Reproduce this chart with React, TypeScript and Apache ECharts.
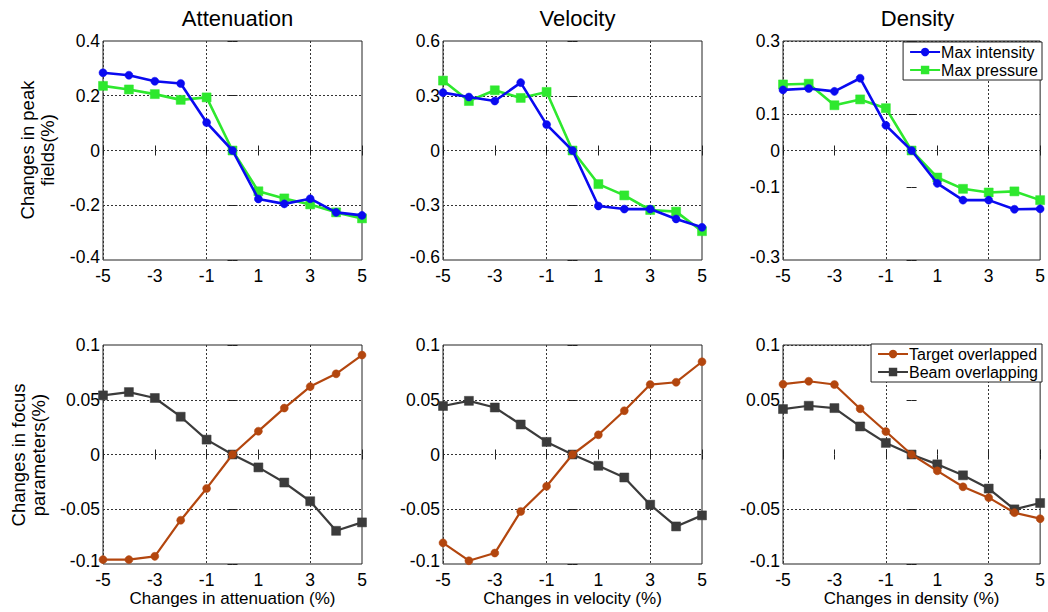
import React, { useEffect, useRef } from 'react';
import * as echarts from 'echarts';

const xValues = [-5, -4, -3, -2, -1, 0, 1, 2, 3, 4, 5];
const xTickLabels = [-5, -3, -1, 1, 3, 5];
const panelTitles = ['Attenuation', 'Velocity', 'Density'];
const xAxisNames = ['Changes in attenuation (%)', 'Changes in velocity (%)', 'Changes in density (%)'];
const topYName = 'Changes in peak\nfields(%)';
const bottomYName = 'Changes in focus\nparameters(%)';

// Peak fields (top row)
const attIntensity = [0.284, 0.275, 0.253, 0.245, 0.102, 0, -0.177, -0.195, -0.176, -0.226, -0.237];
const attPressure = [0.236, 0.223, 0.206, 0.185, 0.194, 0, -0.149, -0.175, -0.197, -0.226, -0.248];
const velIntensity = [0.317, 0.293, 0.271, 0.372, 0.142, 0, -0.304, -0.321, -0.321, -0.375, -0.421];
const velPressure = [0.383, 0.271, 0.33, 0.288, 0.321, 0, -0.184, -0.246, -0.326, -0.335, -0.442];
const denIntensity = [0.166, 0.17, 0.162, 0.198, 0.069, 0, -0.09, -0.136, -0.136, -0.161, -0.16];
const denPressure = [0.181, 0.183, 0.124, 0.14, 0.116, 0, -0.074, -0.105, -0.115, -0.112, -0.136];

// Focus parameters (bottom row)
const attTarget = [-0.096, -0.096, -0.093, -0.06, -0.031, 0, 0.0213, 0.0424, 0.062, 0.0737, 0.0908];
const attBeam = [0.054, 0.057, 0.0516, 0.0345, 0.0136, 0, -0.0118, -0.0256, -0.0427, -0.0697, -0.062];
const velTarget = [-0.0807, -0.097, -0.09, -0.052, -0.029, 0, 0.018, 0.04, 0.0639, 0.066, 0.0847];
const velBeam = [0.0443, 0.049, 0.0429, 0.0274, 0.0115, 0, -0.0103, -0.021, -0.0458, -0.0657, -0.0556];
const denTarget = [0.0642, 0.0669, 0.0639, 0.0418, 0.021, 0, -0.0149, -0.0295, -0.0394, -0.0531, -0.0586];
const denBeam = [0.0415, 0.0445, 0.0424, 0.0256, 0.0106, 0, -0.009, -0.019, -0.0311, -0.0501, -0.0443];

// Y axis ranges [min, max, step] and the tick labels shown
const yRanges = [
  [-0.4, 0.4, 0.2], [-0.6, 0.6, 0.3], [-0.3, 0.3, 0.1],
  [-0.1, 0.1, 0.05], [-0.1, 0.1, 0.05], [-0.1, 0.1, 0.05],
];
const yTickLabels = [
  [-0.4, -0.2, 0, 0.2, 0.4],
  [-0.6, -0.3, 0, 0.3, 0.6],
  [-0.3, -0.1, 0, 0.1, 0.3],
  [-0.1, -0.05, 0, 0.05, 0.1],
  [-0.1, -0.05, 0, 0.05, 0.1],
  [-0.1, -0.05, 0.05, 0.1],
];

const seriesNames = ['Max intensity', 'Max pressure', 'Target overlapped', 'Beam overlapping'];
const panelData = [
  [attIntensity, attPressure],
  [velIntensity, velPressure],
  [denIntensity, denPressure],
  [attTarget, attBeam],
  [velTarget, velBeam],
  [denTarget, denBeam],
];

const FONT = '"Liberation Sans", Arial, Helvetica, sans-serif';
const BLUE = '#0a0af0';
const GREEN = '#2ee82e';
const ORANGE = '#b3460e';
const GRAY = '#3b3b3b';
const GRIDC = '#333';
const CLEAR = 'rgba(0,0,0,0)';

const LEFTS = [103, 443, 783];
const TOPS = [41, 345];
const W = 259;
const H = 219;
const TICKFONT = 17.5;

const has = (list: number[], v: number) => list.some((t) => Math.abs(t - v) < 1e-6);

function buildOption() {
  const grid: any[] = [];
  const xAxis: any[] = [];
  const yAxis: any[] = [];
  const series: any[] = [];

  for (let p = 0; p < 6; p++) {
    const row = Math.floor(p / 3);
    const col = p % 3;
    grid.push({
      left: LEFTS[col], top: TOPS[row], width: W, height: H,
      show: true, borderColor: '#222', borderWidth: 1, backgroundColor: '#fff',
    });

    const xColors = xValues.map((v) => (has(xTickLabels, v) ? GRIDC : CLEAR));
    xAxis.push({
      type: 'value', gridIndex: p, min: -5, max: 5, interval: 1,
      axisLine: { show: false },
      axisTick: { show: true, inside: true, length: 5, customValues: xTickLabels, lineStyle: { color: '#222' } },
      axisLabel: {
        show: true, margin: 7, fontSize: TICKFONT, color: '#000', fontFamily: FONT,
        customValues: xTickLabels,
        formatter: (v: number) => (has(xTickLabels, v) ? String(Math.round(v)) : ''),
      },
      splitLine: { show: true, lineStyle: { color: xColors, type: [2, 2], width: 1 } },
      name: row === 1 ? xAxisNames[col] : '',
      nameLocation: 'middle', nameGap: 24,
      nameTextStyle: { fontSize: 17, color: '#000', fontFamily: FONT },
    });

    const [mn, mx, st] = yRanges[p];
    const n = Math.round((mx - mn) / st);
    const yColors: string[] = [];
    for (let i = 0; i <= n; i++) {
      const v = mn + i * st;
      yColors.push(has(yTickLabels[p], v) && i !== 0 && i !== n ? GRIDC : CLEAR);
    }
    yAxis.push({
      type: 'value', gridIndex: p, min: mn, max: mx, interval: st,
      axisLine: { show: false },
      axisTick: { show: true, inside: true, length: 5, customValues: yTickLabels[p], lineStyle: { color: '#222' } },
      axisLabel: {
        show: true, margin: 3, fontSize: TICKFONT, color: '#000', fontFamily: FONT,
        customValues: yTickLabels[p],
        formatter: (v: number) => {
          const r = Math.round(v * 1000) / 1000;
          if (!has(yTickLabels[p], r)) return '';
          return Math.abs(r - mn) < 1e-6 ? '{lo|' + String(r) + '}' : String(r);
        },
        rich: {
          lo: { fontSize: TICKFONT, color: '#000', fontFamily: FONT, padding: [0, 0, 7, 0] },
        },
      },
      splitLine: { show: true, lineStyle: { color: yColors, type: [2, 2], width: 1 } },
    });

    const top = row === 0;
    const colors = top ? [BLUE, GREEN] : [ORANGE, GRAY];
    const names = top ? [seriesNames[0], seriesNames[1]] : [seriesNames[2], seriesNames[3]];
    for (let s = 0; s < 2; s++) {
      series.push({
        type: 'line', name: names[s], xAxisIndex: p, yAxisIndex: p,
        data: xValues.map((x, i) => [x, panelData[p][s][i]]),
        symbol: s === 0 ? 'circle' : 'rect',
        symbolSize: s === 0 ? 8 : 9,
        showAllSymbol: true,
        lineStyle: { color: colors[s], width: top ? 2.6 : 2.2 },
        itemStyle: { color: colors[s], borderColor: colors[s], borderWidth: 0.5 },
        z: s === 0 ? 3 : 2,
      });
    }
  }

  // mirror axes (top and right) for inside ticks
  for (let p = 0; p < 6; p++) {
    xAxis.push({
      type: 'value', gridIndex: p, min: -5, max: 5, interval: 1, position: 'top',
      axisLine: { show: false }, axisLabel: { show: false }, splitLine: { show: false },
      axisTick: { show: true, inside: true, length: 5, customValues: xTickLabels, lineStyle: { color: '#222' } },
    });
    const [mn, mx, st] = yRanges[p];
    yAxis.push({
      type: 'value', gridIndex: p, min: mn, max: mx, interval: st, position: 'right',
      axisLine: { show: false }, axisLabel: { show: false }, splitLine: { show: false },
      axisTick: { show: true, inside: true, length: 5, customValues: yTickLabels[p], lineStyle: { color: '#222' } },
    });
  }

  const title = panelTitles.map((t, i) => ({
    text: t, left: LEFTS[i] + W / 2, top: 2, textAlign: 'center',
    textStyle: { fontSize: 22, fontWeight: 'normal', color: '#000', fontFamily: FONT },
  }));

  const legendCommon = {
    orient: 'vertical', right: 6, itemWidth: 30, itemHeight: 8, itemGap: 2,
    borderColor: '#222', borderWidth: 1, backgroundColor: '#fff',
    padding: [2, 4, 2, 6],
    textStyle: { fontSize: 16, color: '#000', fontFamily: FONT, padding: [0, 0, 0, -4] },
    selectedMode: false, z: 10,
  };

  return {
    animation: false,
    backgroundColor: '#fff',
    title,
    legend: [
      { ...legendCommon, top: 42, data: [seriesNames[0], seriesNames[1]] },
      { ...legendCommon, top: 344, data: [seriesNames[2], seriesNames[3]] },
    ],
    grid, xAxis, yAxis, series,
    graphic: [
      {
        type: 'text', x: 37, y: 150, rotation: Math.PI / 2,
        style: { text: topYName, align: 'center', verticalAlign: 'middle', fontSize: 18.5, lineHeight: 20, fontFamily: FONT, fill: '#000' },
      },
      {
        type: 'text', x: 28, y: 455, rotation: Math.PI / 2,
        style: { text: bottomYName, align: 'center', verticalAlign: 'middle', fontSize: 18.5, lineHeight: 20, fontFamily: FONT, fill: '#000' },
      },
    ],
  };
}

export default function App() {
  const ref = useRef<HTMLDivElement>(null);
  useEffect(() => {
    document.body.style.margin = '0';
    if (!ref.current) return;
    const chart = echarts.init(ref.current, undefined, { renderer: 'svg' });
    chart.setOption(buildOption() as any);
    return () => chart.dispose();
  }, []);
  return <div ref={ref} style={{ width: 1048, height: 612 }} />;
}
